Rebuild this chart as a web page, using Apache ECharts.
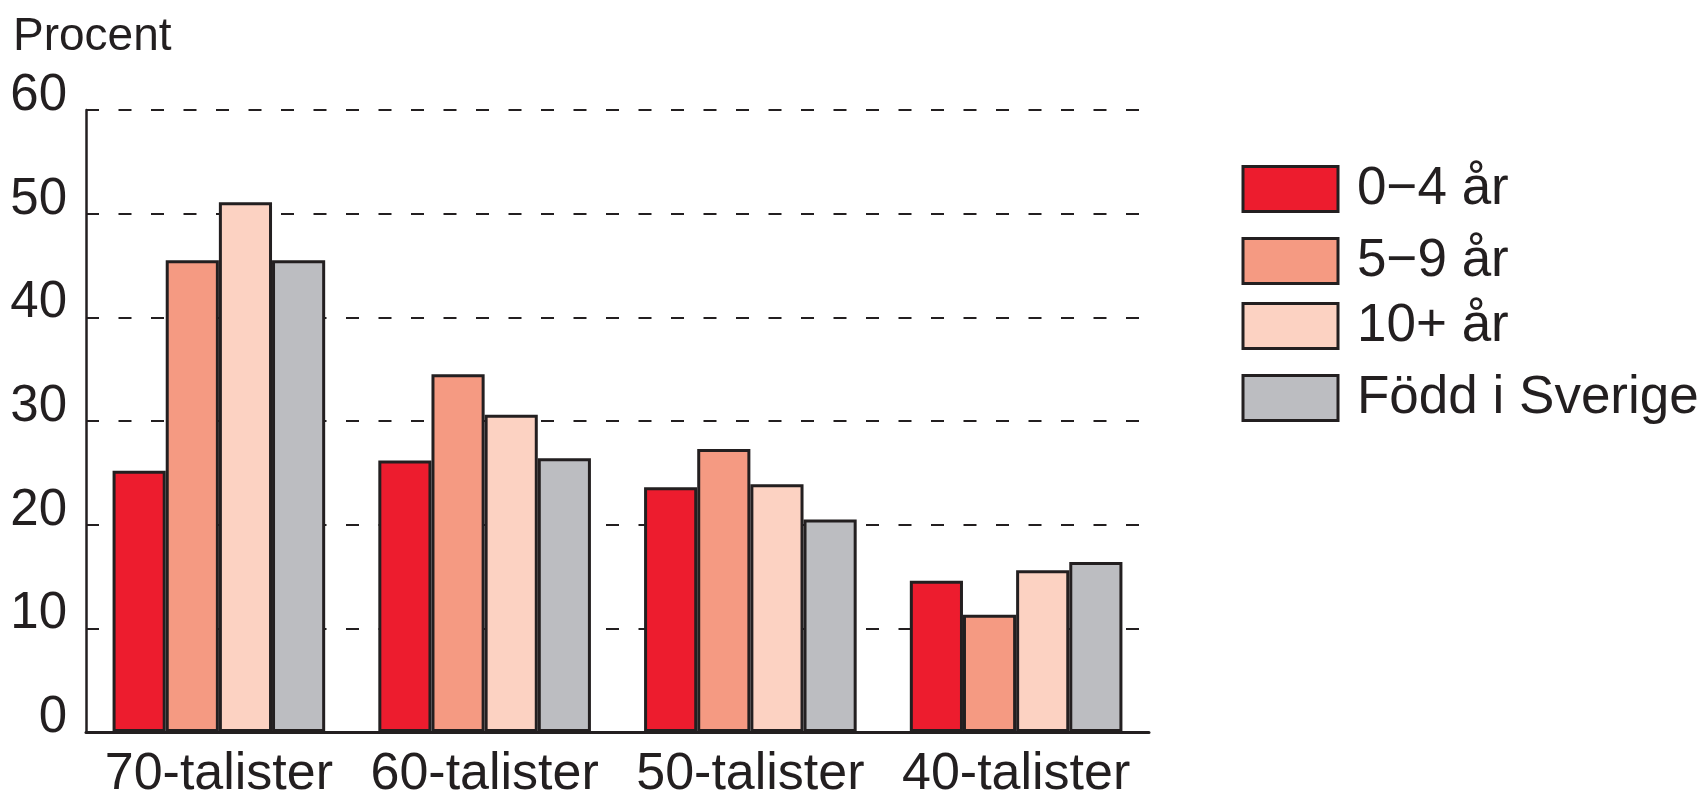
<!DOCTYPE html>
<html>
<head>
<meta charset="utf-8">
<script src="https://cdn.jsdelivr.net/npm/echarts@6/dist/echarts.min.js"></script>
<style>
html,body{margin:0;padding:0;background:#fff;}
#chart{width:1707px;height:801px;}
</style>
</head>
<body>
<div id="chart"></div>
<script>
const categories = ['70-talister', '60-talister', '50-talister', '40-talister'];
const seriesNames = ['0\u22124 år', '5\u22129 år', '10+ år', 'Född i Sverige'];
const s0to4 = [25.2, 26.2, 23.6, 14.6];
const s5to9 = [45.5, 34.5, 27.3, 11.3];
const s10plus = [51.1, 30.6, 23.9, 15.6];
const sSverige = [45.5, 26.4, 20.5, 16.4];
const yTicks = [0, 10, 20, 30, 40, 50, 60];

const colors = ['#ed1c2e', '#f59a82', '#fcd2c2', '#bcbdc1'];
const ink = '#231f20';
const font = 'Liberation Sans, Arial, Helvetica, sans-serif';
const values = [s0to4, s5to9, s10plus, sSverige];
const legendTops = [157.5, 229.5, 294.5, 366.5];

const chart = echarts.init(document.getElementById('chart'), null, {renderer: 'canvas'});
chart.setOption({
  animation: false,
  backgroundColor: '#ffffff',
  title: {
    text: 'Procent',
    left: 8,
    top: 9,
    textStyle: {fontFamily: font, fontSize: 46, fontWeight: 'normal', color: ink}
  },
  legend: seriesNames.map(function (name, i) {
    return {
      orient: 'vertical',
      left: 1236.5,
      top: legendTops[i],
      itemWidth: 95,
      itemHeight: 45,
      icon: 'rect',
      selectedMode: false,
      data: [name],
      itemStyle: {borderColor: ink, borderWidth: 3},
      textStyle: {fontFamily: font, fontSize: 53, color: ink, lineHeight: 45, padding: [0, 0, 0, 14]}
    };
  }),
  grid: {left: 86, right: 558, top: 110, bottom: 58, containLabel: false},
  xAxis: {
    type: 'category',
    data: categories,
    axisLine: {show: true, lineStyle: {color: ink, width: 3}},
    axisTick: {show: false},
    axisLabel: {interval: 0, fontFamily: font, fontSize: 52, color: ink, margin: 17}
  },
  yAxis: {
    type: 'value',
    min: yTicks[0],
    max: yTicks[yTicks.length - 1],
    interval: 10,
    axisLine: {show: true, lineStyle: {color: ink, width: 2.5}},
    axisTick: {show: false},
    axisLabel: {
      fontFamily: font, fontSize: 51, color: ink, margin: 19,
      verticalAlign: 'bottom', lineHeight: 28,
      formatter: function (v) { return yTicks.indexOf(v) >= 0 ? String(v) : ''; }
    },
    splitLine: {show: true, lineStyle: {color: ink, width: 2, type: [13, 19.5]}}
  },
  series: seriesNames.map(function (name, i) {
    return {
      name: name,
      type: 'bar',
      data: values[i],
      barGap: '0%',
      barCategoryGap: '20%',
      itemStyle: {color: colors[i], borderColor: ink, borderWidth: 3}
    };
  })
});
</script>
</body>
</html>
